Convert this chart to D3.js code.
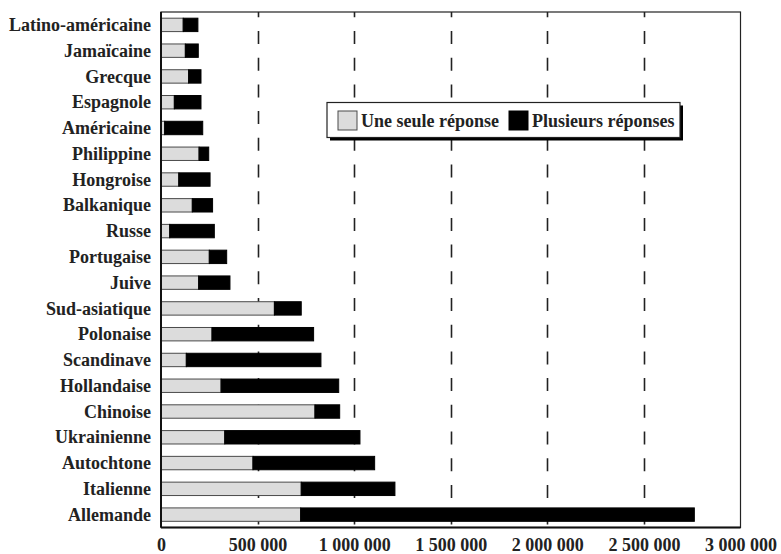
<!DOCTYPE html>
<html>
<head>
<meta charset="utf-8">
<script src="https://cdn.jsdelivr.net/npm/d3@7"></script>
<style>
  html, body { margin: 0; padding: 0; background: #fff; }
  svg { display: block; }
  text { font-family: "Liberation Serif", "Times New Roman", serif; font-weight: bold; fill: #222; }
</style>
</head>
<body>
<svg id="chart" width="781" height="554"></svg>
<script>
// Origines ethniques : réponses uniques et multiples
const categories = [
  "Latino-américaine", "Jamaïcaine", "Grecque", "Espagnole", "Américaine",
  "Philippine", "Hongroise", "Balkanique", "Russe", "Portugaise",
  "Juive", "Sud-asiatique", "Polonaise", "Scandinave", "Hollandaise",
  "Chinoise", "Ukrainienne", "Autochtone", "Italienne", "Allemande"
];
const seuleReponse = [
  115000, 126000, 143000, 69000, 19000,
  197000, 92000, 162000, 45000, 250000,
  195000, 587000, 264000, 131000, 311000,
  797000, 330000, 476000, 726000, 723000
];
const plusieursReponses = [
  76000, 67000, 64000, 138000, 197000,
  50000, 162000, 105000, 231000, 90000,
  162000, 139000, 526000, 697000, 609000,
  128000, 700000, 630000, 485000, 2038000
];
const seriesNames = ["Une seule réponse", "Plusieurs réponses"];
const xTicks = [0, 500000, 1000000, 1500000, 2000000, 2500000, 3000000];

const svg = d3.select("#chart");
const W = 781, H = 554;
const m = { top: 12, right: 40.5, bottom: 26.5, left: 161 };
const iw = W - m.left - m.right, ih = H - m.top - m.bottom;

const x = d3.scaleLinear().domain([0, 3000000]).range([0, iw]);
const y = d3.scaleBand().domain(categories).range([0, ih]).paddingInner(0.48).paddingOuter(0.24);

const rows = categories.map((c, i) => ({ cat: c, seule: seuleReponse[i], plus: plusieursReponses[i] }));
const stack = d3.stack().keys(["seule", "plus"])(rows);
const fills = ["#dcdcdc", "#000"];
const strokes = ["#4a4a4a", "#000"];

const g = svg.append("g").attr("transform", `translate(${m.left},${m.top})`);

// dashed vertical gridlines
g.append("g").selectAll("line")
  .data(xTicks.filter(t => t > 0 && t < 3000000))
  .join("line")
  .attr("x1", d => Math.round(x(d)) + 0.5).attr("x2", d => Math.round(x(d)) + 0.5)
  .attr("y1", 0).attr("y2", ih)
  .attr("stroke", "#222").attr("stroke-width", 1.6)
  .attr("stroke-dasharray", "13 13.7")
  .attr("stroke-dashoffset", 7.7);

// stacked bars
g.append("g").selectAll("g")
  .data(stack)
  .join("g")
  .attr("fill", (d, i) => fills[i])
  .attr("stroke", (d, i) => strokes[i])
  .selectAll("rect")
  .data(d => d)
  .join("rect")
  .attr("x", d => x(d[0]))
  .attr("y", d => y(d.data.cat))
  .attr("width", d => x(d[1]) - x(d[0]))
  .attr("height", y.bandwidth())
  .attr("stroke-width", 1);

// frame
g.append("rect")
  .attr("x", 0).attr("y", 0).attr("width", iw).attr("height", ih)
  .attr("fill", "none").attr("stroke", "#222").attr("stroke-width", 1.2);
g.append("line").attr("x1", 0).attr("x2", 0).attr("y1", 0).attr("y2", ih)
  .attr("stroke", "#111").attr("stroke-width", 2);
g.append("line").attr("x1", 0).attr("x2", iw).attr("y1", ih).attr("y2", ih)
  .attr("stroke", "#111").attr("stroke-width", 2);

// category labels
const yAxis = d3.axisLeft(y).tickSize(0).tickPadding(10);
const ya = g.append("g").call(yAxis);
ya.select(".domain").remove();
ya.selectAll("text").attr("font-size", 18).attr("dy", "0.34em")
  .attr("font-family", null);

// value axis
const loc = d3.formatLocale({ decimal: ",", thousands: " ", grouping: [3], currency: ["", " $"] });
const fmt = loc.format(",d");
const xAxis = d3.axisBottom(x).tickValues(xTicks).tickFormat(fmt).tickSize(0);
const xa = g.append("g").attr("transform", `translate(0,${ih})`).call(xAxis);
xa.select(".domain").remove();
xa.selectAll("text").attr("font-size", 18).attr("font-family", null)
  .attr("y", 23).attr("dy", 0);

// legend
const lg = svg.append("g").attr("transform", "translate(327,102.5)");
const lw = 353, lh = 35;
lg.append("rect").attr("x", 3).attr("y", 3).attr("width", lw).attr("height", lh).attr("fill", "#000");
lg.append("rect").attr("x", 0).attr("y", 0).attr("width", lw).attr("height", lh)
  .attr("fill", "#fff").attr("stroke", "#222").attr("stroke-width", 1.2);
const items = [{ name: seriesNames[0], x: 11, i: 0 }, { name: seriesNames[1], x: 182, i: 1 }];
const it = lg.selectAll("g.item").data(items).join("g").attr("class", "item")
  .attr("transform", d => `translate(${d.x},8.5)`);
it.append("rect").attr("width", 19).attr("height", 19)
  .attr("fill", d => fills[d.i]).attr("stroke", d => strokes[d.i]).attr("stroke-width", 1);
it.append("text").attr("x", 23).attr("y", 15.5).attr("font-size", 18).text(d => d.name);
</script>
</body>
</html>
